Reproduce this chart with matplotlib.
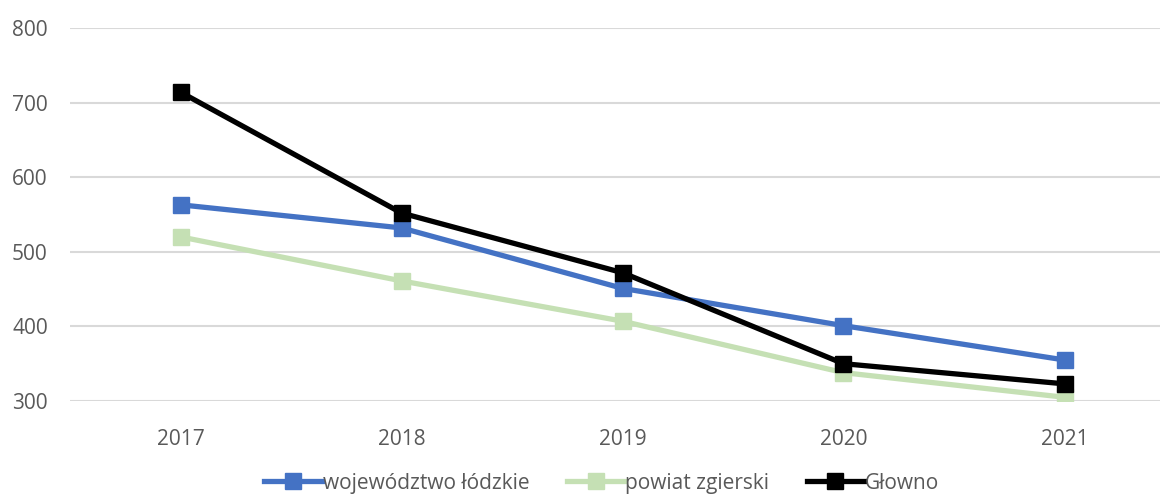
import matplotlib.pyplot as plt

years = ["2017", "2018", "2019", "2020", "2021"]
lodzkie = [563, 532, 451, 401, 355]
zgierski = [520, 461, 407, 338, 305]
glowno = [714, 552, 472, 350, 323]

plt.rcParams['font.family'] = ['Open Sans', 'DejaVu Sans']

fig = plt.figure(figsize=(11.62, 4.95), dpi=100)
ax = fig.add_axes([70 / 1162, 94 / 495, 1090 / 1162, 373 / 495])

x = range(len(years))
ax.plot(x, lodzkie, color="#4472c4", lw=3.8, marker="s", ms=11, label="województwo łódzkie")
ax.plot(x, zgierski, color="#c5e0b4", lw=3.8, marker="s", ms=11, label="powiat zgierski")
ax.plot(x, glowno, color="black", lw=3.8, marker="s", ms=11, label="Głowno")

ax.set_ylim(300, 800)
ax.set_xlim(-0.5, -0.5 + 1090 / 221)
ax.set_yticks(range(300, 801, 100))
ax.set_xticks(list(x))
ax.set_xticklabels(years)
ax.grid(axis="y", color="#d9d9d9", lw=1.5)
ax.set_axisbelow(True)
for s in ax.spines.values():
    s.set_visible(False)
ax.tick_params(length=0, colors="#595959", labelsize=15)
ax.tick_params(axis="y", pad=16)
ax.tick_params(axis="x", pad=20)

fig.legend(loc="center", bbox_to_anchor=(0.518, 0.024), ncol=3, frameon=False,
           fontsize=15, labelcolor="#595959", handlelength=2.75, handletextpad=0.05,
           columnspacing=1.8)

fig.savefig("out.png", dpi=100)
